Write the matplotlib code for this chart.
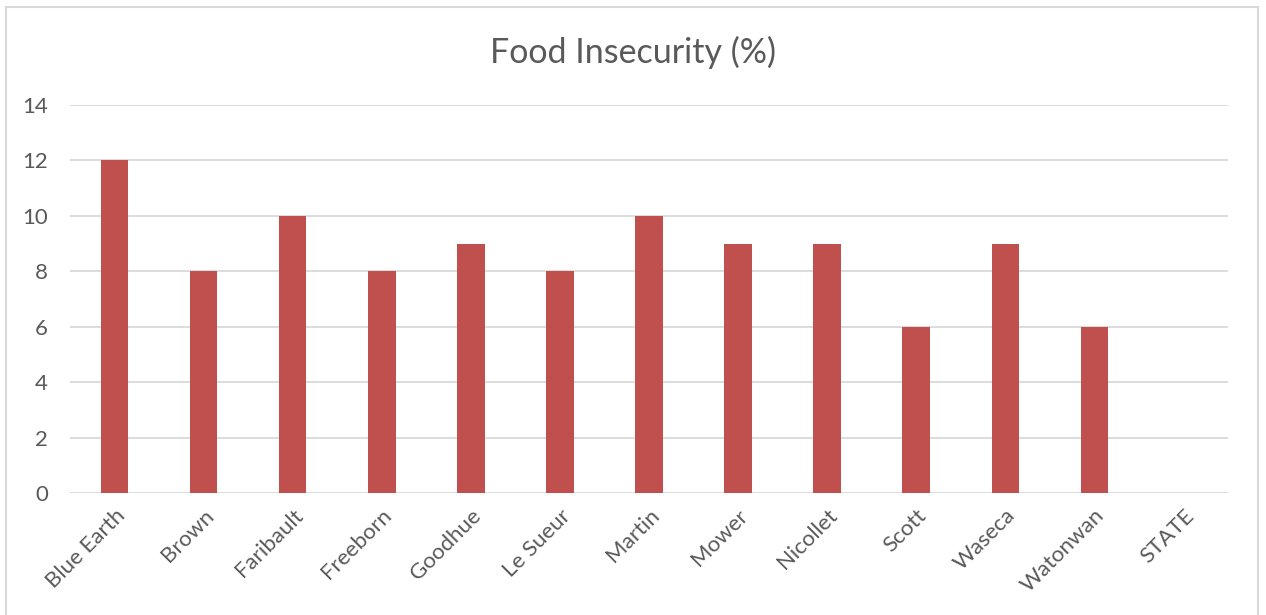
import matplotlib
matplotlib.use("Agg")
import matplotlib.pyplot as plt
from matplotlib.patches import Rectangle
import numpy as np

plt.rcParams["font.family"] = ["Lato", "DejaVu Sans"]

# Food insecurity by county (STATE has no value shown)
COUNTIES = [
    "Blue Earth", "Brown", "Faribault", "Freeborn", "Goodhue", "Le Sueur",
    "Martin", "Mower", "Nicollet", "Scott", "Waseca", "Watonwan", "STATE",
]
INSECURITY = [12, 8, 10, 8, 9, 8, 10, 9, 9, 6, 9, 6, np.nan]
Y_TICKS = [0, 2, 4, 6, 8, 10, 12, 14]

BAR_COLOR = "#C0504D"
TEXT_COLOR = "#595959"
GRID_COLOR = "#D9D9D9"

W, H = 1266, 615
fig = plt.figure(figsize=(W / 100, H / 100), dpi=100)
ax = fig.add_axes([70 / W, 1 - 493 / H, (1228 - 70) / W, (493 - 105) / H])

x = np.arange(len(COUNTIES))
ax.bar(x, INSECURITY, width=0.31, color=BAR_COLOR, zorder=3)

ax.set_xlim(-0.5, len(COUNTIES) - 0.5)
ax.set_ylim(0, 14)
ax.set_yticks(Y_TICKS)
ax.grid(axis="y", color=GRID_COLOR, linewidth=1.3, zorder=0)
for side in ax.spines.values():
    side.set_visible(False)

ax.tick_params(axis="y", length=0, pad=16, labelsize=16, labelcolor=TEXT_COLOR)
ax.tick_params(axis="x", length=0, pad=9, labelsize=16, labelcolor=TEXT_COLOR)
ax.set_xticks(x)
ax.set_xticklabels(COUNTIES, rotation=45, ha="right", rotation_mode="anchor")

fig.text(0.5, 1 - 52 / H, "Food Insecurity (%)", ha="center", va="center",
         fontsize=24.5, color=TEXT_COLOR)

# light chart-area frame like the Excel export
fig.patches.append(Rectangle((6 / W, -0.1), (1258 - 6) / W, 1.1 - 7 / H,
                             transform=fig.transFigure, fill=False,
                             edgecolor=GRID_COLOR, linewidth=1.5))

fig.savefig("out.png", dpi=100)
